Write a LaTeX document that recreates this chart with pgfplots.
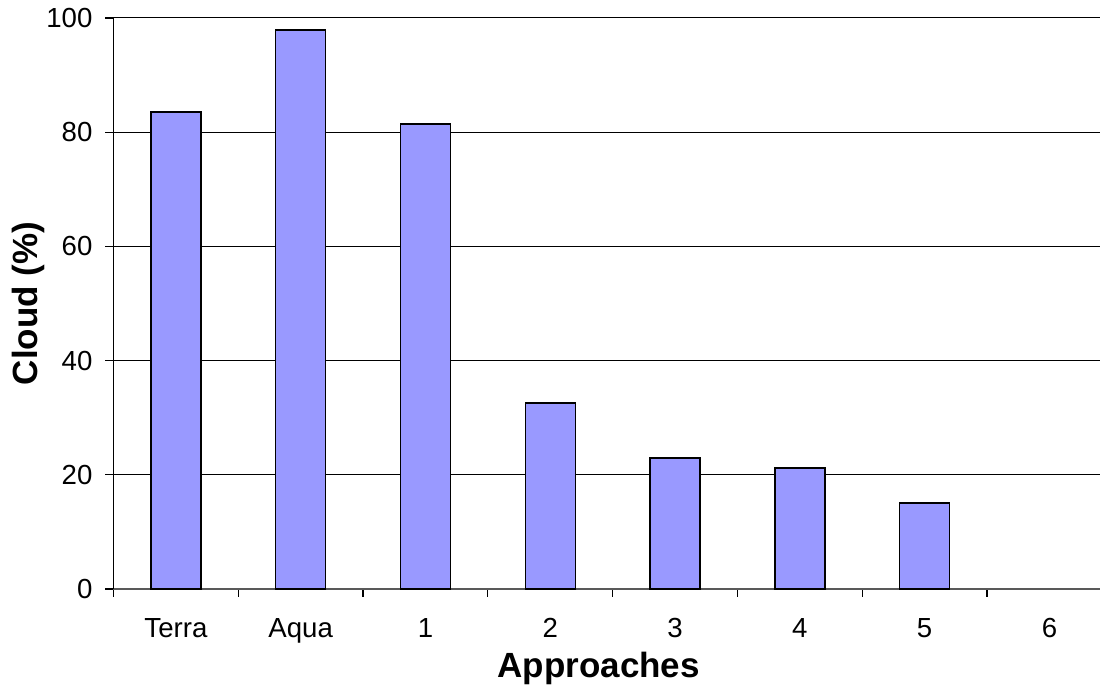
\documentclass[border=0pt]{standalone}
\usepackage{fontspec}
\setmainfont{Liberation Sans}
\usepackage{pgfplots}
\pgfplotsset{compat=1.18}
\definecolor{barblue}{HTML}{9999FF}
\begin{document}
\begin{tikzpicture}
\begin{axis}[
  scale only axis,
  width=493.25pt, height=285.5pt,
  xmin=-0.5, xmax=7.405,
  ymin=0, ymax=100,
  ytick={0,20,...,100},
  ymajorgrids,
  grid style={black, line width=0.5pt},
  axis x line*=bottom,
  axis y line*=left,
  x axis line style={draw=gray!70!black, line width=0.8pt},
  y axis line style={black, line width=0.6pt},
  axis line style={-},
  tick style={black, line width=0.6pt},
  major tick length=4pt,
  tick align=outside,
  xtick={-0.5,0.5,...,6.5},
  xticklabels={},
  extra x ticks={0,1,2,3,4,5,6,7},
  extra x tick labels={Terra,Aqua,1,2,3,4,5,6},
  extra x tick style={major tick length=0pt, grid=none,
    xticklabel style={yshift=-11pt}},
  /pgf/number format/assume math mode=true,
  ticklabel style={font=\fontsize{13.8}{16}\selectfont},
  yticklabel style={xshift=-3pt},
  ylabel={\textbf{Cloud (\%)}},
  xlabel={\textbf{Approaches}},
  label style={font=\fontsize{17.5}{20}\selectfont},
  ylabel style={yshift=-6pt},
  xlabel style={yshift=6pt, xshift=-4pt},
  clip=false,
]
\addplot[ybar, bar width=25pt, fill=barblue, draw=black, line width=0.75pt]
  coordinates {(0,83.5) (1,97.9) (2,81.4) (3,32.6) (4,22.9) (5,21.2) (6,15.1)};
\end{axis}
\pgfresetboundingbox
\path[use as bounding box] ([shift={(-56.75pt,-48.5pt)}]current axis.south west)
  rectangle ([shift={(0pt,9pt)}]current axis.north east);
\end{tikzpicture}
\end{document}
